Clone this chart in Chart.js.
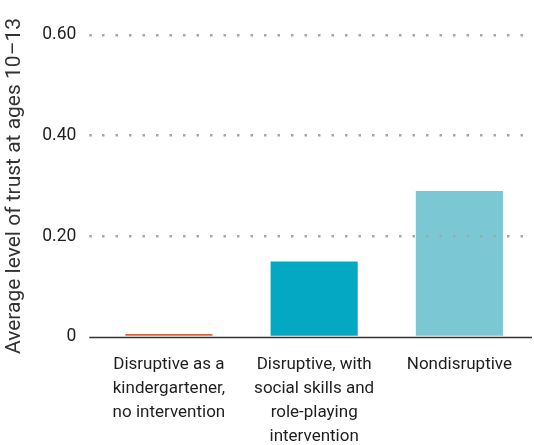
<!DOCTYPE html>
<html>
<head>
<meta charset="utf-8">
<script src="https://cdn.jsdelivr.net/npm/chart.js@4/dist/chart.umd.min.js"></script>
<style>
  html, body { margin: 0; padding: 0; background: #fff; }
  #wrap { width: 534px; height: 445px; position: relative; }
</style>
</head>
<body>
<div id="wrap"><canvas id="trustChart"></canvas></div>
<script>
/* Data */
const groups = [
    ["Disruptive as a", "kindergartener,", "no intervention"],
    ["Disruptive, with", "social skills and", "role-playing", "intervention"],
    ["Nondisruptive"]
];
const trustLevels = [0.006, 0.15, 0.29];
const barColors = ["#e0623b", "#04a8c2", "#7bc7d4"];
const yTicks = [0, 0.2, 0.4, 0.6];
const yTitle = "Average level of trust at ages 10\u201313";

const TICK_EXT = 7;

/* baseline drawn a bit past the plot, like the original */
const baseline = {
    id: "baseline",
    afterDatasetsDraw(chart) {
        const { ctx, chartArea, scales } = chart;
        const y = Math.round(scales.y.getPixelForValue(0)) + 0.5;
        ctx.save();
        ctx.strokeStyle = "#333";
        ctx.lineWidth = 1.5;
        ctx.beginPath();
        ctx.moveTo(chartArea.left - TICK_EXT, y);
        ctx.lineTo(chartArea.right, y);
        ctx.stroke();
        ctx.restore();
    }
};

new Chart(document.getElementById("trustChart"), {
    type: "bar",
    data: {
        labels: groups,
        datasets: [{
            data: trustLevels,
            backgroundColor: barColors,
            barPercentage: 0.6,
            categoryPercentage: 1
        }]
    },
    options: {
        responsive: true,
        maintainAspectRatio: false,
        animation: false,
        layout: { padding: { top: 35, right: 2, left: 2, bottom: -12 } },
        plugins: { legend: { display: false }, tooltip: { enabled: false } },
        scales: {
            x: {
                grid: { display: false },
                border: { display: false },
                ticks: {
                    color: "#1e1e1e",
                    font: { family: "Roboto", size: 17, lineHeight: "24px" },
                    padding: 8,
                    maxRotation: 0,
                    autoSkip: false
                }
            },
            y: {
                min: 0,
                max: 0.6,
                afterBuildTicks: scale => { scale.ticks = yTicks.map(v => ({ value: v })); },
                grid: {
                    z: 1,
                    color: c => c.tick && c.tick.value === 0 ? "rgba(0,0,0,0)" : "#a6a6a6",
                    tickColor: c => c.tick && c.tick.value === 0 ? "rgba(0,0,0,0)" : "#a6a6a6",
                    lineWidth: 2.5,
                    tickWidth: 2.5,
                    tickLength: TICK_EXT,
                    tickBorderDash: [2.5, 11]
                },
                border: { display: false, dash: [2.5, 11], dashOffset: -6 },
                ticks: {
                    color: "#1e1e1e",
                    font: { family: "Roboto", size: 17.5 },
                    padding: 13,
                    callback: v => v === 0 ? "0" : v.toFixed(2)
                },
                title: {
                    display: true,
                    text: yTitle,
                    color: "#333",
                    font: { family: "Roboto", size: 21 },
                    padding: { top: 0, bottom: 2 }
                }
            }
        }
    },
    plugins: [baseline]
});
</script>
</body>
</html>
